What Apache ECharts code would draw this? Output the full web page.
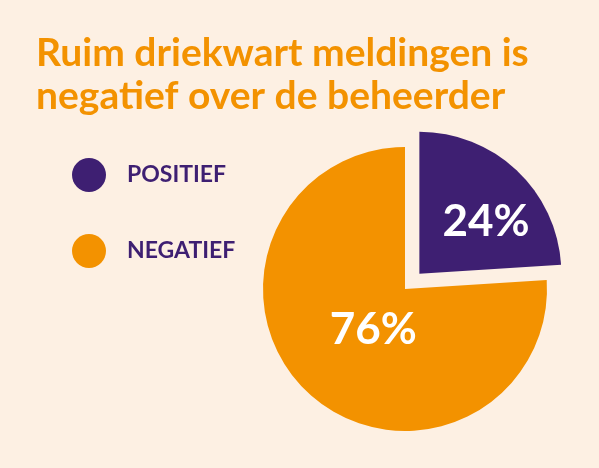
<!DOCTYPE html>
<html>
<head>
<meta charset="utf-8">
<script src="https://cdn.jsdelivr.net/npm/echarts@6/dist/echarts.min.js"></script>
<style>
  html, body { margin: 0; padding: 0; background: #fdf0e3; }
  #main { width: 599px; height: 468px; }
</style>
</head>
<body>
<div id="main"></div>
<script>
// data
var categories = ['POSITIEF', 'NEGATIEF'];
var values = [24, 76];
var colors = ['#3e1f72', '#f39200'];

var chart = echarts.init(document.getElementById('main'));

var pieData = categories.map(function (name, i) {
  return {
    name: name,
    value: values[i],
    selected: i === 0, // positief slice is pulled out
    itemStyle: { color: colors[i] }
  };
});

var option = {
  backgroundColor: '#fdf0e3',
  animation: false,
  title: {
    text: 'Ruim driekwart meldingen is\nnegatief over de beheerder',
    left: 31,
    top: 27,
    textStyle: {
      color: '#f39200',
      fontFamily: 'Lato',
      fontWeight: 'bold',
      fontSize: 39,
      lineHeight: 43
    }
  },
  legend: {
    orient: 'vertical',
    left: 67,
    top: 153,
    icon: 'circle',
    itemWidth: 34,
    itemHeight: 34,
    itemGap: 42,
    selectedMode: false,
    data: categories,
    textStyle: {
      color: '#3e1f72',
      fontFamily: 'Lato',
      fontWeight: 'bold',
      fontSize: 23,
      padding: [0, 0, 0, 16]
    }
  },
  series: [
    {
      type: 'pie',
      center: [405, 289],
      radius: 142,
      startAngle: 90,
      clockwise: true,
      selectedMode: 'single',
      selectedOffset: 21,
      data: pieData,
      label: {
        position: 'inner',
        formatter: '{c}%',
        color: '#ffffff',
        fontFamily: 'Lato',
        fontWeight: 'bold',
        fontSize: 44
      },
      labelLine: { show: false },
      labelLayout: function (params) {
        // nudge the labels to where they sit in the original
        return params.dataIndex === 0 ? { dx: 16, dy: 2 } : { dx: 19, dy: -13 };
      },
      emphasis: { disabled: true }
    }
  ]
};

chart.setOption(option);
</script>
</body>
</html>
